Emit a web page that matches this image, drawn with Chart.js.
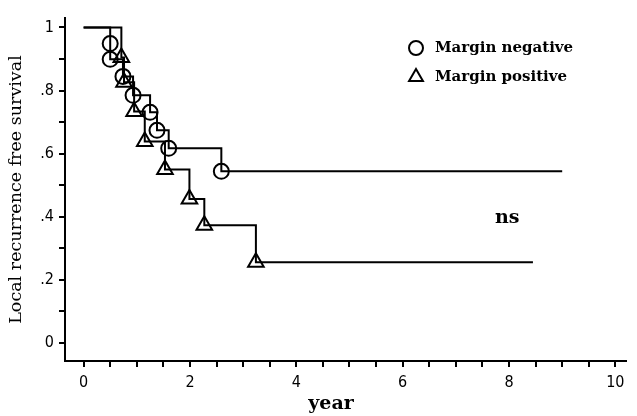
<!DOCTYPE html>
<html><head><meta charset="utf-8">
<script src="https://cdn.jsdelivr.net/npm/chart.js@4/dist/chart.umd.min.js"></script>
<style>html,body{margin:0;padding:0;background:#fff}#wrap{width:637px;height:416px}</style>
</head><body><div id="wrap"><canvas id="c" width="637" height="416"></canvas></div>
<script>
const negTimes = [0, 0.50, 0.50, 0.74, 0.93, 1.25, 1.38, 1.60, 2.59, 9.0];
const negSurv  = [1, 0.949, 0.899, 0.845, 0.785, 0.731, 0.674, 0.617, 0.544, 0.544];
const posTimes = [0, 0.71, 0.76, 0.95, 1.15, 1.53, 1.99, 2.27, 3.24, 8.45];
const posSurv  = [1, 0.905, 0.826, 0.734, 0.639, 0.550, 0.456, 0.373, 0.256, 0.256];
const seriesNames = ['Margin negative', 'Margin positive'];
const xTickLabels = ['0','2','4','6','8','10'];
const yTickLabels = {0:'0',2:'.2',4:'.4',6:'.6',8:'.8',10:'1'};

const pts = (t, s) => t.map((v, i) => ({x: v, y: s[i]}));
const marks = (t, s) => pts(t, s).slice(1, -1);

const tickFont = {family: "'Liberation Sans Narrow','DejaVu Sans Condensed',sans-serif", size: 16};

const overlay = {
  id: 'overlay',
  afterDraw(chart) {
    const ctx = chart.ctx;
    ctx.save();
    ctx.strokeStyle = '#000';
    ctx.lineWidth = 2;
    ctx.fillStyle = 'rgba(0,0,0,0)';
    Chart.helpers.drawPoint(ctx, {pointStyle: 'circle', radius: 7, rotation: 0, borderWidth: 2}, 416, 48);
    ctx.fillStyle = 'rgba(0,0,0,0)';
    Chart.helpers.drawPoint(ctx, {pointStyle: 'triangle', radius: 8, rotation: 0, borderWidth: 2}, 416, 77);
    ctx.fillStyle = '#000';
    ctx.font = "bold 15px 'DejaVu Serif', serif";
    ctx.textBaseline = 'middle';
    ctx.textAlign = 'left';
    ctx.fillText(seriesNames[0], 435, 48);
    ctx.fillText(seriesNames[1], 435, 77);
    ctx.font = "bold 19px 'DejaVu Serif', serif";
    ctx.fillText('ns', 495, 218);
    ctx.font = "bold 19px 'DejaVu Serif', serif";
    ctx.textAlign = 'center';
    ctx.fillText('year', 331, 404);
    ctx.restore();
  }
};

new Chart(document.getElementById('c'), {
  type: 'line',
  data: {
    datasets: [
      {data: pts(negTimes, negSurv), stepped: 'before', borderColor: '#000', borderWidth: 2, pointRadius: 0, fill: false},
      {data: pts(posTimes, posSurv), stepped: 'before', borderColor: '#000', borderWidth: 2, pointRadius: 0, fill: false},
      {data: marks(negTimes, negSurv), showLine: false, pointStyle: 'circle', pointRadius: 7.5, pointBorderWidth: 2, pointBorderColor: '#000', pointBackgroundColor: 'rgba(0,0,0,0)'},
      {data: marks(posTimes, posSurv), showLine: false, pointStyle: 'triangle', pointRadius: 9, pointBorderWidth: 2, pointBorderColor: '#000', pointBackgroundColor: 'rgba(0,0,0,0)'}
    ]
  },
  options: {
    responsive: false,
    animation: false,
    layout: {padding: {left: 0, right: 6, top: 18, bottom: 0}},
    plugins: {legend: {display: false}, tooltip: {enabled: false}},
    scales: {
      x: {
        type: 'linear', min: -0.35, max: 10.2,
        border: {color: '#000', width: 2},
        grid: {drawOnChartArea: false, color: '#000', lineWidth: 2, tickLength: 6},
        ticks: {stepSize: 0.5, includeBounds: false, autoSkip: false, maxRotation: 0, color: '#000', font: tickFont, padding: 6,
          callback: v => (Math.abs(v % 2) < 1e-9 ? xTickLabels[Math.round(v / 2)] : '')},
        title: {display: false},
        afterFit: s => { s.height = 55; }
      },
      y: {
        type: 'linear', min: -0.057, max: 1.03,
        border: {color: '#000', width: 2},
        grid: {drawOnChartArea: false, color: '#000', lineWidth: 2, tickLength: 6},
        ticks: {stepSize: 0.1, includeBounds: false, autoSkip: false, color: '#000', font: tickFont, padding: 5,
          callback: v => { const k = Math.round(v * 10); return (k % 2 === 0 && Math.abs(v*10 - k) < 1e-6) ? yTickLabels[k] : ''; }},
        title: {display: true, text: 'Local recurrence free survival', color: '#000', font: {family: "'DejaVu Serif', serif", size: 17.5}, padding: {top: 6, bottom: 2}},
        afterFit: s => { s.width = 65; }
      }
    }
  },
  plugins: [overlay]
});
</script></body></html>
